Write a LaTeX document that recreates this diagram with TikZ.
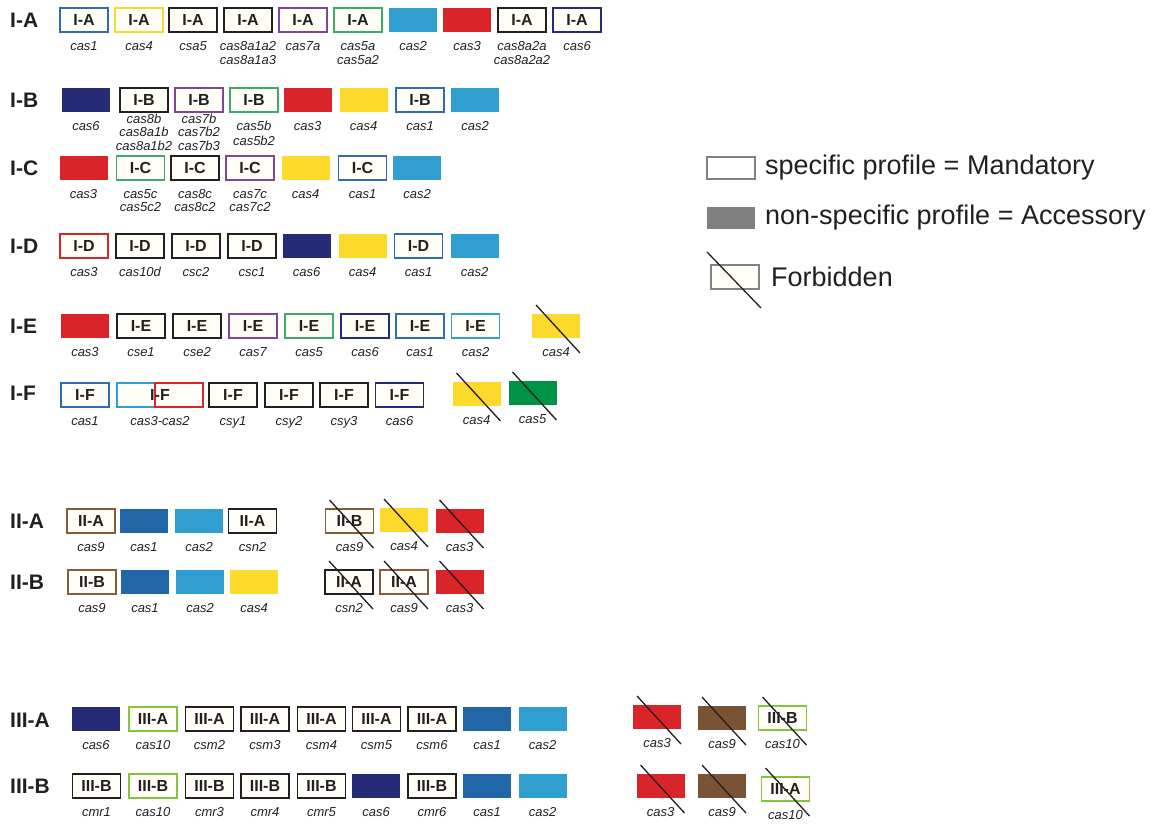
\documentclass[tikz,border=0pt]{standalone}
\usepackage{fontspec}
\setmainfont{Liberation Sans}
\usetikzlibrary{calc}
\definecolor{cblue}{RGB}{46,109,178}
\definecolor{cyel}{RGB}{252,217,42}
\definecolor{cpur}{RGB}{128,70,150}
\definecolor{cgrn}{RGB}{60,170,105}
\definecolor{clb}{RGB}{48,158,206}
\definecolor{cred}{RGB}{217,36,42}
\definecolor{cnavy}{RGB}{38,43,120}
\definecolor{cdb}{RGB}{33,102,166}
\definecolor{cbrn}{RGB}{132,92,62}
\definecolor{cbrnf}{RGB}{122,82,52}
\definecolor{clg}{RGB}{134,196,64}
\definecolor{cdg}{RGB}{0,146,69}
\definecolor{ink}{RGB}{35,31,32}
\definecolor{ivory}{RGB}{255,255,248}
\definecolor{legline}{RGB}{130,130,130}
\definecolor{legfill}{RGB}{128,128,128}
\tikzset{
  box/.style={minimum width=48pt, minimum height=24pt, inner sep=0pt, outer sep=0pt,
    fill=ivory, font=\fontsize{16}{17}\selectfont\bfseries, text=ink},
  prof/.style={box, draw=#1, line width=1.5pt},
  blk/.style={box, draw=ink, line width=1.9pt},
  acc/.style={box, fill=#1, draw=none},
  lab/.style={anchor=north, inner sep=0pt, font=\fontsize{13}{14.5}\selectfont\itshape, text=ink, align=center},
  labtight/.style={lab, font=\fontsize{13}{13.2}\selectfont\itshape},
  ttl/.style={anchor=west, inner sep=0pt, font=\fontsize{21}{23}\selectfont\bfseries, text=ink},
  slash/.style={draw=ink, line width=1.3pt},
  legtext/.style={anchor=west, inner sep=0pt, font=\fontsize{27}{30}\selectfont, text=ink}
}
\newcommand\gbox[7][9]{\node[#5] (#2) at (#3,#4) {#6};
  \path (#2.south) ++(0,#1) node[lab] (#2l) {#7};}
\newcommand\gboxt[7][9]{\node[#5] (#2) at (#3,#4) {#6};
  \path (#2.south) ++(0,#1) node[labtight] (#2l) {#7};}
\newcommand\forb[1]{\draw[slash] ($(#1.center)+(-20,-21)$) -- ($(#1.center)+(24,27)$);}
\begin{document}
\begin{tikzpicture}[x=1pt,y=-1pt]
\useasboundingbox (0,0) rectangle (1153,823);
% titles
\node[ttl] (tIA) at (10,20) {I-A};
\node[ttl] (tIB) at (10,100) {I-B};
\node[ttl] (tIC) at (10,168) {I-C};
\node[ttl] (tID) at (10,246) {I-D};
\node[ttl] (tIE) at (10,326) {I-E};
\node[ttl] (tIF) at (10,393) {I-F};
\node[ttl] (tIIA) at (10,521) {II-A};
\node[ttl] (tIIB) at (10,582) {II-B};
\node[ttl] (tIIIA) at (10,720) {III-A};
\node[ttl] (tIIIB) at (10,786) {III-B};
% I-A
\gbox{a1}{84}{20}{prof=cblue}{I-A}{cas1}
\gbox{a2}{139}{20}{prof=cyel}{I-A}{cas4}
\gbox{a3}{193}{20}{blk}{I-A}{csa5}
\gbox{a4}{248}{20}{blk}{I-A}{cas8a1a2\\cas8a1a3}
\gbox{a5}{303}{20}{prof=cpur}{I-A}{cas7a}
\gbox{a6}{358}{20}{prof=cgrn}{I-A}{cas5a\\cas5a2}
\gbox{a7}{413}{20}{acc=clb}{}{cas2}
\gbox{a8}{467}{20}{acc=cred}{}{cas3}
\gbox{a9}{522}{20}{blk}{I-A}{cas8a2a\\cas8a2a2}
\gbox{a10}{577}{20}{prof=cnavy}{I-A}{cas6}
% I-B
\gbox{b1}{86}{100}{acc=cnavy}{}{cas6}
\gboxt[2]{b2}{144}{100}{blk}{I-B}{cas8b\\cas8a1b\\cas8a1b2}
\gboxt[2]{b3}{199}{100}{prof=cpur}{I-B}{cas7b\\cas7b2\\cas7b3}
\gbox{b4}{254}{100}{prof=cgrn}{I-B}{cas5b\\cas5b2}
\gbox{b5}{307.5}{100}{acc=cred}{}{cas3}
\gbox{b6}{363.5}{100}{acc=cyel}{}{cas4}
\gbox{b7}{420}{100}{prof=cblue}{I-B}{cas1}
\gbox{b8}{475}{100}{acc=clb}{}{cas2}
% I-C
\gbox{c1}{83.5}{168}{acc=cred}{}{cas3}
\gboxt{c2}{140.5}{168}{prof=cgrn}{I-C}{cas5c\\cas5c2}
\gboxt{c3}{195}{168}{blk}{I-C}{cas8c\\cas8c2}
\gboxt{c4}{250}{168}{prof=cpur}{I-C}{cas7c\\cas7c2}
\gbox{c5}{305.5}{168}{acc=cyel}{}{cas4}
\gbox{c6}{362.5}{168}{prof=cblue}{I-C}{cas1}
\gbox{c7}{417}{168}{acc=clb}{}{cas2}
% I-D
\gbox{d1}{84}{246}{prof=cred}{I-D}{cas3}
\gbox{d2}{140}{246}{blk}{I-D}{cas10d}
\gbox{d3}{196}{246}{blk}{I-D}{csc2}
\gbox{d4}{252}{246}{blk}{I-D}{csc1}
\gbox{d5}{306.5}{246}{acc=cnavy}{}{cas6}
\gbox{d6}{362.5}{246}{acc=cyel}{}{cas4}
\gbox{d7}{418.5}{246}{prof=cblue}{I-D}{cas1}
\gbox{d8}{474.5}{246}{acc=clb}{}{cas2}
% I-E
\gbox{e1}{85}{326}{acc=cred}{}{cas3}
\gbox{e2}{141}{326}{blk}{I-E}{cse1}
\gbox{e3}{197}{326}{blk}{I-E}{cse2}
\gbox{e4}{253}{326}{prof=cpur}{I-E}{cas7}
\gbox{e5}{309}{326}{prof=cgrn}{I-E}{cas5}
\gbox{e6}{365}{326}{prof=cnavy}{I-E}{cas6}
\gbox{e7}{420}{326}{prof=cblue}{I-E}{cas1}
\gbox{e8}{475.5}{326}{prof=clb}{I-E}{cas2}
\gbox{e9}{556}{326}{acc=cyel}{}{cas4}
\forb{e9}
% I-F
\gbox{f1}{85}{395}{prof=cblue}{I-F}{cas1}
\node[prof=clb] (f2) at (141,395) {};
\node[prof=cred] (f3) at (179,395) {};
\node[box, fill=none] (f23) at (160,395) {I-F};
\path (f3.south -| f23) ++(0,9) node[lab] (f23l) {cas3-cas2};
\gbox{f4}{233}{395}{blk}{I-F}{csy1}
\gbox{f5}{289}{395}{blk}{I-F}{csy2}
\gbox{f6}{344}{395}{blk}{I-F}{csy3}
\gbox{f7}{399.5}{395}{prof=cnavy}{I-F}{cas6}
\gbox{f8}{476.5}{394}{acc=cyel}{}{cas4}
\gbox{f9}{532.5}{393}{acc=cdg}{}{cas5}
\forb{f8}
\forb{f9}
% II-A
\gbox{g1}{91}{521}{prof=cbrn}{II-A}{cas9}
\gbox{g2}{144}{521}{acc=cdb}{}{cas1}
\gbox{g3}{199}{521}{acc=clb}{}{cas2}
\gbox{g4}{252.5}{521}{blk}{II-A}{csn2}
\gbox{g5}{349.5}{521}{prof=cbrn}{II-B}{cas9}
\gbox{g6}{404}{520}{acc=cyel}{}{cas4}
\gbox{g7}{459.5}{521}{acc=cred}{}{cas3}
\forb{g5}
\forb{g6}
\forb{g7}
% II-B
\gbox{h1}{92}{582}{prof=cbrn}{II-B}{cas9}
\gbox{h2}{145}{582}{acc=cdb}{}{cas1}
\gbox{h3}{200}{582}{acc=clb}{}{cas2}
\gbox{h4}{254}{582}{acc=cyel}{}{cas4}
\gbox{h5}{349}{582}{blk}{II-A}{csn2}
\gbox{h6}{404}{582}{prof=cbrn}{II-A}{cas9}
\gbox{h7}{459.5}{582}{acc=cred}{}{cas3}
\forb{h5}
\forb{h6}
\forb{h7}
% III-A
\gbox{i1}{96}{719}{acc=cnavy}{}{cas6}
\gbox{i2}{153}{719}{prof=clg}{III-A}{cas10}
\gbox{i3}{209.5}{719}{blk}{III-A}{csm2}
\gbox{i4}{265}{719}{blk}{III-A}{csm3}
\gbox{i5}{321.5}{719}{blk}{III-A}{csm4}
\gbox{i6}{376.5}{719}{blk}{III-A}{csm5}
\gbox{i7}{432}{719}{blk}{III-A}{csm6}
\gbox{i8}{487}{719}{acc=cdb}{}{cas1}
\gbox{i9}{542.5}{719}{acc=clb}{}{cas2}
\gbox{i10}{657}{717}{acc=cred}{}{cas3}
\gbox{i11}{722}{718}{acc=cbrnf}{}{cas9}
\gbox{i12}{782.5}{718}{prof=clg}{III-B}{cas10}
\forb{i10}
\forb{i11}
\forb{i12}
% III-B
\gbox{j1}{96.5}{786}{blk}{III-B}{cmr1}
\gbox{j2}{153}{786}{prof=clg}{III-B}{cas10}
\gbox{j3}{209.5}{786}{blk}{III-B}{cmr3}
\gbox{j4}{265}{786}{blk}{III-B}{cmr4}
\gbox{j5}{321.5}{786}{blk}{III-B}{cmr5}
\gbox{j6}{376}{786}{acc=cnavy}{}{cas6}
\gbox{j7}{432}{786}{blk}{III-B}{cmr6}
\gbox{j8}{487}{786}{acc=cdb}{}{cas1}
\gbox{j9}{542.5}{786}{acc=clb}{}{cas2}
\gbox{j10}{660.5}{786}{acc=cred}{}{cas3}
\gbox{j11}{722}{786}{acc=cbrnf}{}{cas9}
\gbox{j12}{785.5}{789}{prof=clg}{III-A}{cas10}
\forb{j10}
\forb{j11}
\forb{j12}
% legend
\node[box, minimum height=22pt, draw=legline, line width=1.2pt, fill=white] (lg1) at (731,168) {};
\node[legtext] (lt1) at (765,168) {specific profile = Mandatory};
\node[box, minimum height=22pt, fill=legfill, draw=none] (lg2) at (731,218) {};
\node[legtext] (lt2) at (765,218) {non-specific profile = Accessory};
\node[box, draw=legline, line width=1.2pt, fill=ivory] (lg3) at (735,277) {};
\draw[slash] ($(lg3.center)+(-28,-25)$) -- ($(lg3.center)+(26,31)$);
\node[legtext] (lt3) at (771,277) {Forbidden};
\end{tikzpicture}
\end{document}
